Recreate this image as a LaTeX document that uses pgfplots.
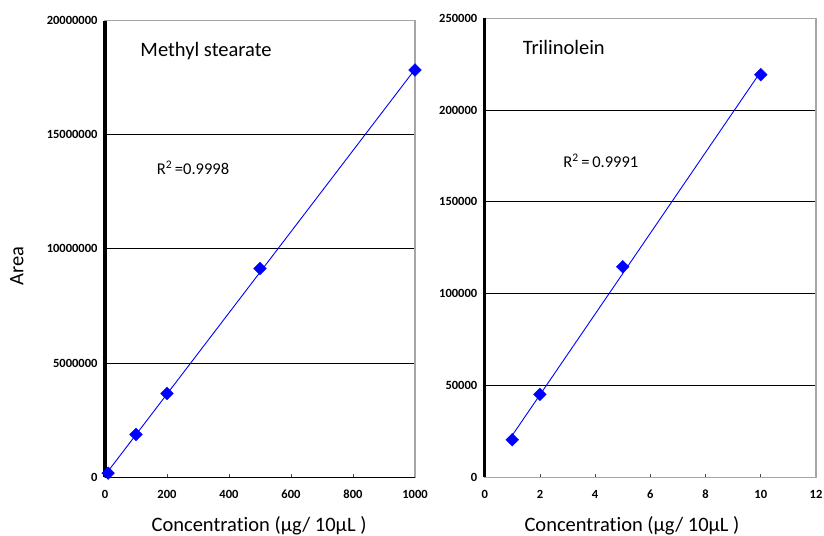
\documentclass[border=0pt]{standalone}
\usepackage{fontspec}
\setmainfont{Carlito}[Ligatures=NoCommon]
\usepackage{pgfplots}
\pgfplotsset{compat=1.18}
\definecolor{frame}{HTML}{A6A6A6}
\definecolor{ptblue}{HTML}{0000FF}
\pgfplotsset{
  common/.style={
    scale only axis,
    axis line style={draw=frame, line width=1.2bp},
    ymajorgrids,
    grid style={black, line width=0.9bp},
    tick align=inside,
    xtick pos=bottom,
    ytick pos=left,
    major tick length=3.5bp,
    xtick style={draw=black!70, line width=0.8bp},
    ytick style={draw=none},
    /pgf/number format/assume math mode=true,
    /pgf/number format/.cd, fixed, 1000 sep={},
    /pgfplots/.cd,
    scaled y ticks=false,
    scaled x ticks=false,
    tick label style={font=\fontsize{12.5bp}{14bp}\selectfont\bfseries, black},
    xticklabel style={yshift=-9.5bp},
    yticklabel style={xshift=-4bp},
    label style={font=\fontsize{20.5bp}{24bp}\selectfont},
    clip=false,
  },
}
\begin{document}
\begin{tikzpicture}
\useasboundingbox (0,0) rectangle (824bp,-536bp);
% Left: Methyl stearate
\begin{axis}[common,
  at={(105bp,-477.3bp)}, anchor=south west,
  width=310bp, height=456.8bp,
  xmin=0, xmax=1000, ymin=0, ymax=20000000,
  xtick={0,200,400,600,800,1000},
  ytick={0,5000000,10000000,15000000,20000000},
  xlabel={Concentration (μg/ 10μL )},
  ylabel={Area},
  xlabel style={at={(axis description cs:0.497,-0.1066)}, anchor=center},
  ylabel style={at={(axis description cs:-0.284,0.4626)}, anchor=center, rotate=0},
]
\addplot[ptblue, line width=0.9bp, forget plot] coordinates {(10,268000) (1000,17864000)};
\addplot[only marks, mark=square*, mark size=4.5bp, mark options={rotate=45, fill=ptblue, draw=ptblue}] coordinates {
  (10,180000) (100,1870000) (200,3670000) (500,9140000) (1000,17830000)};
\draw[black, line width=3.2bp] (rel axis cs:0,0) -- (rel axis cs:0,1);
\draw[black, line width=1.2bp] (rel axis cs:0,0) -- (rel axis cs:1,0);
\node[anchor=base, font=\fontsize{20.5bp}{24bp}\selectfont] at (axis cs:326,18420000) {Methyl stearate};
\node[anchor=base, font=\fontsize{16.5bp}{20bp}\selectfont] at (axis cs:284,13240000) {R\textsuperscript{2}\,=0.9998};
\end{axis}
% Right: Trilinolein
\begin{axis}[common,
  at={(484.7bp,-477.3bp)}, anchor=south west,
  width=331.3bp, height=459bp,
  xmin=0, xmax=12, ymin=0, ymax=250000,
  xtick={0,2,4,6,8,10,12},
  ytick={0,50000,100000,150000,200000,250000},
  xlabel={Concentration (μg/ 10μL )},
  xlabel style={at={(axis description cs:0.4446,-0.106)}, anchor=center},
]
\addplot[ptblue, line width=0.9bp, forget plot] coordinates {(1,22900) (10,221000)};
\addplot[only marks, mark=square*, mark size=4.5bp, mark options={rotate=45, fill=ptblue, draw=ptblue}] coordinates {
  (1,20450) (2,45170) (5,114700) (10,219300)};
\draw[black, line width=3.2bp] (rel axis cs:0,0) -- (rel axis cs:0,1);
\node[anchor=base, font=\fontsize{20.5bp}{24bp}\selectfont] at (axis cs:2.865,230400) {Trilinolein};
\node[anchor=base, font=\fontsize{16.5bp}{20bp}\selectfont] at (axis cs:4.205,168850) {R\textsuperscript{2}\,=\,0.9991};
\end{axis}
\end{tikzpicture}
\end{document}
